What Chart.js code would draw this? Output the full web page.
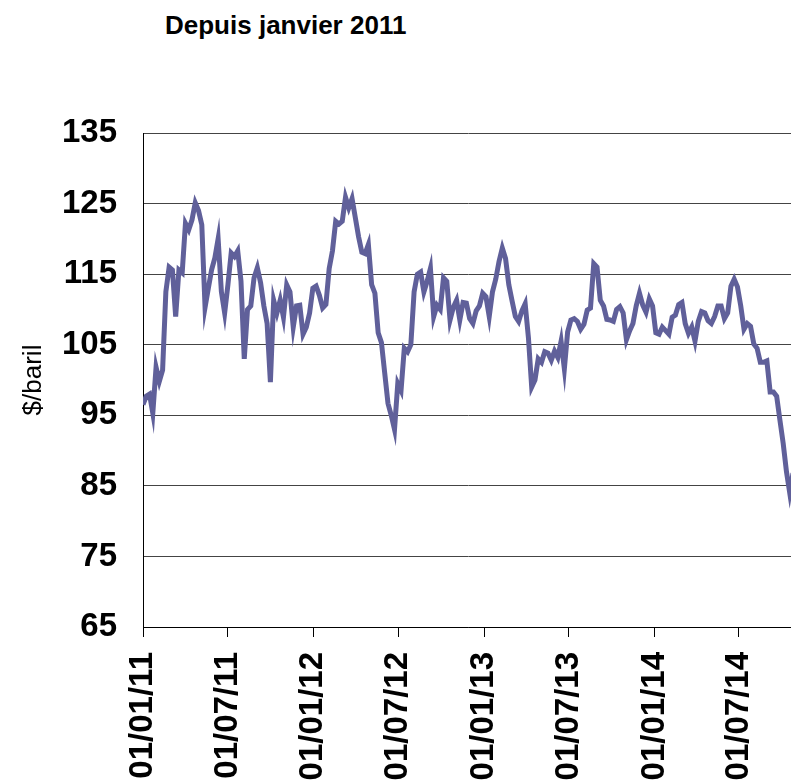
<!DOCTYPE html>
<html>
<head>
<meta charset="utf-8">
<script src="https://cdn.jsdelivr.net/npm/chart.js@4.4.0/dist/chart.umd.min.js"></script>
<style>
    html, body { margin: 0; padding: 0; background: #fff; overflow: hidden; }
    body { width: 791px; height: 781px; position: relative; }
    #title {
        position: absolute;
        left: 165px;
        top: 12px;
        font: bold 26px "Liberation Sans", Arial, sans-serif;
        line-height: 26px;
        color: #000;
        white-space: nowrap;
    }
    #chart { position: absolute; left: 0; top: 0; }
</style>
</head>
<body>
<div id="title">Depuis janvier 2011</div>
<canvas id="chart" width="800" height="800"></canvas>
<script>
// Brent, $/baril, one value per week starting from the first week of 2011
const firstWeek = '2011-01-01';
const brent = [
    96.5, 97.7, 98, 95.3, 101.8, 99.8, 101.4, 112.5, 116, 115.6,
    109, 115.6, 115.2, 122.2, 121.3, 122.7, 125.1, 124, 122, 110.3,
    113, 115.6, 117.3, 120, 112.5, 109.5, 113.5, 118, 117.5, 118.3,
    114, 103, 110, 110.5, 114.5, 115.9, 113.8, 110.5, 108, 99.7,
    111.3, 109.5, 111.3, 108.9, 113.5, 112.5, 107.5, 110.5, 110.6, 106.5,
    107.5, 109.5, 113, 113.3, 112, 110.2, 110.7, 115.8, 118.3, 122.5,
    122.1, 122.5, 125.9, 124.4, 125.7, 123, 120.3, 118.1, 117.9, 119.2,
    113.5, 112.3, 106.7, 105.3, 101, 96.7, 95, 93, 99.5, 98.5,
    104.5, 104, 105, 112.5, 115, 115.3, 112.5, 114, 115.8, 109,
    110.6, 110, 114.5, 114, 108.5, 110.3, 111.3, 108.5, 111, 110.9,
    108.7, 108, 109.8, 110.5, 112.3, 111.8, 109, 112.5, 114.3, 116.8,
    118.7, 117.2, 113.5, 111.2, 109, 108.3, 109.8, 110.8, 106, 99,
    100, 103, 102.5, 104, 103.8, 102.8, 104.1, 103.2, 105.5, 101.6,
    106.8, 108.5, 108.7, 108.3, 107.2, 107.9, 109.9, 110.2, 116.5, 116,
    111.3, 110.5, 108.6, 108.5, 108.3, 110, 110.4, 109.5, 105.7, 107,
    108, 110.5, 112.3, 110.6, 109.6, 111.5, 110.5, 106.7, 106.5, 107.5,
    107, 106.5, 108.9, 109.2, 110.7, 111, 108, 106.6, 107.5, 105.5,
    108.3, 109.7, 109.5, 108.4, 108, 109, 110.5, 110.5, 108.7, 109.5,
    113.3, 114.3, 113.2, 110.5, 107.2, 108, 107.6, 105.1, 104.5, 102.5,
    102.5, 102.7, 98.3, 98.3, 97.7, 94.3, 91, 87, 84, 86.8
];
const tickDates = ['2011-01-01', '2011-07-01', '2012-01-01', '2012-07-01',
                   '2013-01-01', '2013-07-01', '2014-01-01', '2014-07-01'];
const tickLabels = ['01/01/11', '01/07/11', '01/01/12', '01/07/12',
                    '01/01/13', '01/07/13', '01/01/14', '01/07/14'];
const yMin = 65;
const yMax = 135;
const yStep = 10;

function daysFrom(start, date) {
    return (Date.parse(date) - Date.parse(start)) / 86400000;
}

const points = brent.map((v, i) => ({ x: i * 7, y: v }));
const tickDays = tickDates.map(d => daysFrom(firstWeek, d));

const ctx = document.getElementById('chart').getContext('2d');

new Chart(ctx, {
    type: 'line',
    data: {
        datasets: [{
            label: 'Brent',
            data: points,
            borderColor: '#60609a',
            borderWidth: 5,
            pointRadius: 0,
            tension: 0,
            fill: false,
        }],
    },
    options: {
        responsive: false,
        animation: false,
        devicePixelRatio: 1,
        layout: {
            padding: { top: 133, right: 7, left: 0, bottom: 0 },
        },
        plugins: {
            legend: { display: false },
            tooltip: { enabled: false },
        },
        scales: {
            x: {
                type: 'linear',
                min: 0,
                max: (brent.length - 1) * 7,
                afterBuildTicks: function(scale) {
                    scale.ticks = tickDays.map(v => ({ value: v }));
                },
                afterFit: function(scale) {
                    scale.height = 800 - 627;
                },
                grid: {
                    display: true,
                    drawOnChartArea: false,
                    drawTicks: true,
                    tickLength: 10,
                    color: '#000',
                },
                border: { display: true, color: '#000', width: 1 },
                ticks: {
                    autoSkip: false,
                    maxRotation: 90,
                    minRotation: 90,
                    padding: 15,
                    color: '#000',
                    font: { family: '"Liberation Sans", Arial, sans-serif', size: 33, weight: 'bold' },
                    callback: function(value, index) {
                        return tickLabels[index];
                    },
                },
            },
            y: {
                min: yMin,
                max: yMax,
                afterFit: function(scale) {
                    scale.width = 143;
                },
                grid: {
                    color: '#444',
                    drawTicks: false,
                },
                border: { display: true, color: '#000', width: 1 },
                ticks: {
                    stepSize: yStep,
                    padding: 26,
                    color: '#000',
                    font: { family: '"Liberation Sans", Arial, sans-serif', size: 33, weight: 'bold' },
                },
                title: {
                    display: true,
                    text: '$/baril',
                    color: '#000',
                    padding: { top: 18, bottom: 0 },
                    font: { family: '"Liberation Sans", Arial, sans-serif', size: 26, weight: 'normal' },
                },
            },
        },
    },
});
</script>
</body>
</html>
